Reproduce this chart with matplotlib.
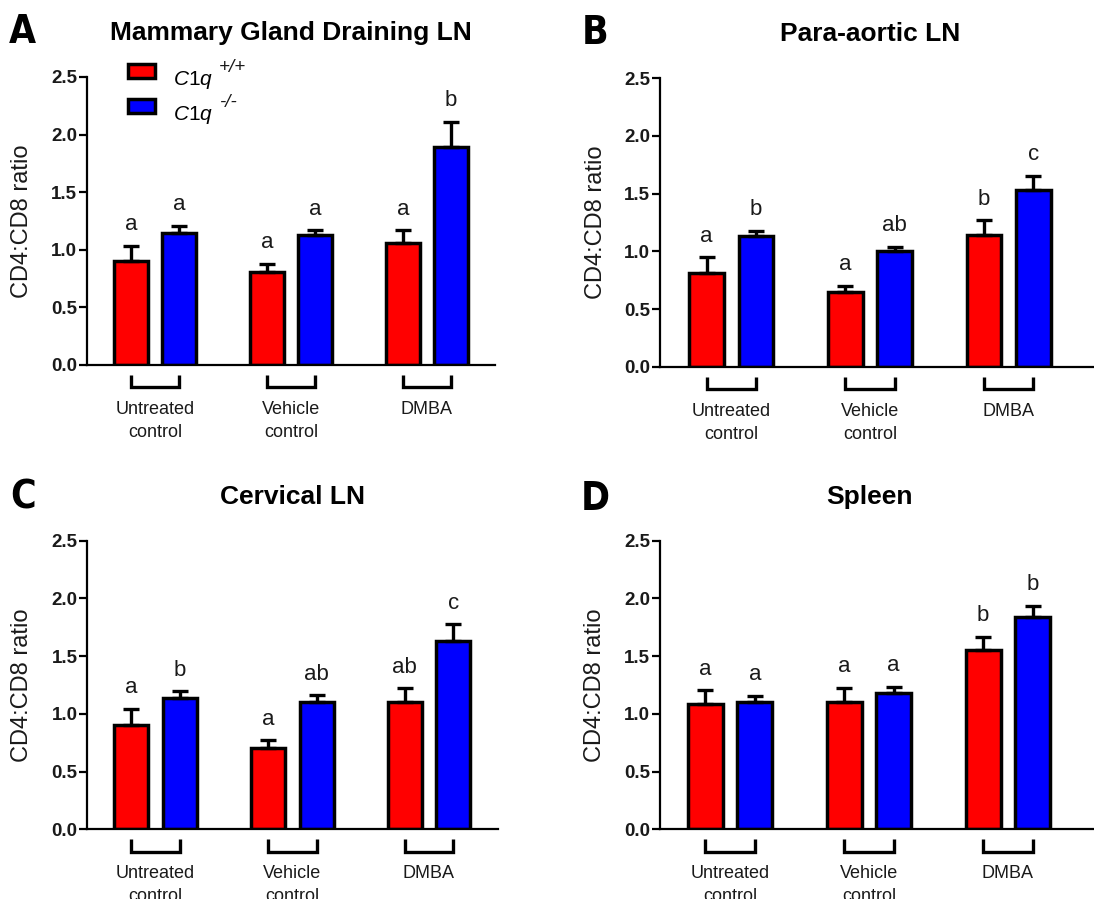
import matplotlib
matplotlib.use('Agg')
import matplotlib.pyplot as plt
import numpy as np
from matplotlib.transforms import blended_transform_factory
from matplotlib.legend_handler import HandlerPatch
from matplotlib.patches import Rectangle
from matplotlib.container import BarContainer

plt.rcParams['font.family'] = ['Liberation Sans', 'DejaVu Sans']
plt.rcParams['mathtext.fontset'] = 'custom'
plt.rcParams['mathtext.rm'] = 'Liberation Sans'
plt.rcParams['mathtext.it'] = 'Liberation Sans:italic'
plt.rcParams['mathtext.bf'] = 'Liberation Sans:bold'

# ---------------- data ----------------
groups = ['Untreated\ncontrol', 'Vehicle\ncontrol', 'DMBA']
series_names = ['C1q', 'C1q']
series_sup = ['+/+', '-/-']
panel_letters = ['A', 'B', 'C', 'D']
titles = ['Mammary Gland Draining LN', 'Para-aortic LN', 'Cervical LN', 'Spleen']
y_ticks = [0.0, 0.5, 1.0, 1.5, 2.0, 2.5]

A_wt_mean = [0.90, 0.81, 1.06]
A_wt_sem = [0.135, 0.07, 0.11]
A_ko_mean = [1.15, 1.13, 1.895]
A_ko_sem = [0.06, 0.04, 0.215]
A_wt_sig = ['a', 'a', 'a']
A_ko_sig = ['a', 'a', 'b']

B_wt_mean = [0.81, 0.65, 1.14]
B_wt_sem = [0.14, 0.05, 0.13]
B_ko_mean = [1.13, 1.005, 1.53]
B_ko_sem = [0.05, 0.035, 0.125]
B_wt_sig = ['a', 'a', 'b']
B_ko_sig = ['b', 'ab', 'c']

C_wt_mean = [0.90, 0.70, 1.10]
C_wt_sem = [0.145, 0.07, 0.12]
C_ko_mean = [1.135, 1.10, 1.635]
C_ko_sem = [0.06, 0.06, 0.14]
C_wt_sig = ['a', 'a', 'ab']
C_ko_sig = ['b', 'ab', 'c']

D_wt_mean = [1.085, 1.10, 1.555]
D_wt_sem = [0.12, 0.125, 0.115]
D_ko_mean = [1.10, 1.185, 1.84]
D_ko_sem = [0.055, 0.05, 0.095]
D_wt_sig = ['a', 'a', 'b']
D_ko_sig = ['a', 'a', 'b']

panels = [
    (A_wt_mean, A_wt_sem, A_ko_mean, A_ko_sem, A_wt_sig, A_ko_sig),
    (B_wt_mean, B_wt_sem, B_ko_mean, B_ko_sem, B_wt_sig, B_ko_sig),
    (C_wt_mean, C_wt_sem, C_ko_mean, C_ko_sem, C_wt_sig, C_ko_sig),
    (D_wt_mean, D_wt_sem, D_ko_mean, D_ko_sem, D_wt_sig, D_ko_sig),
]

# ---------------- layout ----------------
W, H = 1094, 899
fig = plt.figure(figsize=(W / 100, H / 100), dpi=100)

# axes boxes in pixels: left, right, top, bottom
boxes = [(87, 495, 77, 365), (660, 1094, 78.3, 366.7),
         (87.3, 498, 540.7, 829.3), (660, 1094, 540.7, 829.3)]
xlims = [(-0.5, 2.5), (-0.515, 2.615), (-0.5, 2.505), (-0.505, 2.62)]
letter_pos = [(22.5, 28), (595, 28.5), (23, 493.5), (595, 495.5)]
ylabel_x = [-0.159, -0.147, -0.158, -0.150]
sup_pos = [(219, 67), (219, 102.5)]

red = '#FF0000'
blue = '#0000FF'
off = 0.178
bw = 0.25
edge_lw = 2.5
txt = '#1a1a1a'


def raised_rect(legend, orig_handle, xdescent, ydescent, width, height,
                fontsize):
    # legend swatch sitting a little above the label baseline
    return Rectangle((-xdescent, -ydescent + 4.7), width, height)


def from_first_bar(tgt, src):
    tgt.update_from(src.get_children()[0])


for i, (box, data) in enumerate(zip(boxes, panels)):
    l, r, t, b = box
    ax = fig.add_axes([l / W, 1 - b / H, (r - l) / W, (b - t) / H])
    wt_m, wt_s, ko_m, ko_s, wt_sig, ko_sig = data
    x = np.arange(len(groups))
    bars_wt = ax.bar(x - off, wt_m, bw, color=red, edgecolor='black',
                     linewidth=edge_lw, zorder=2,
                     label=r'$\mathit{%s}$' % series_names[0])
    bars_ko = ax.bar(x + off, ko_m, bw, color=blue, edgecolor='black',
                     linewidth=edge_lw, zorder=2,
                     label=r'$\mathit{%s}$' % series_names[1])
    for xs, m, s in [(x - off, wt_m, wt_s), (x + off, ko_m, ko_s)]:
        ax.errorbar(xs, m, yerr=[np.zeros(len(s)), s], fmt='none',
                    ecolor='black', elinewidth=2.4, capsize=6,
                    capthick=2.4, zorder=3, clip_on=False)
    for xs, m, s, sig in [(x - off, wt_m, wt_s, wt_sig),
                          (x + off, ko_m, ko_s, ko_sig)]:
        for xx, mm, ss, lab in zip(xs, m, s, sig):
            ax.text(xx, mm + ss + 0.135, lab, ha='center', va='baseline',
                    fontsize=16, color=txt)

    ax.set_xlim(*xlims[i])
    ax.set_ylim(0, 2.5)
    ax.set_yticks(y_ticks)
    ax.set_yticklabels(['%.1f' % v for v in y_ticks], fontweight='bold')
    ax.set_xticks([])
    for sp in ['top', 'right']:
        ax.spines[sp].set_visible(False)
    for sp in ['left', 'bottom']:
        ax.spines[sp].set_linewidth(1.6)
    ax.tick_params(axis='y', direction='out', length=5.5, width=1.6,
                   labelsize=13.5, pad=1.5, colors='black')
    ax.tick_params(axis='y', labelcolor=txt)

    ax.set_ylabel('CD4:CD8 ratio', fontsize=17, color=txt)
    ax.yaxis.label.set_va('center')
    ax.yaxis.set_label_coords(ylabel_x[i], 0.5)

    ph = b - t
    trans = blended_transform_factory(ax.transData, ax.transAxes)
    for g, name in enumerate(groups):
        y1 = -10 / ph
        y2 = -22.5 / ph
        ax.plot([g - off, g - off, g + off, g + off], [y1, y2, y2, y1],
                color='black', lw=2.4, transform=trans, clip_on=False,
                solid_joinstyle='miter', solid_capstyle='butt')
        ax.text(g, -36 / ph, name, transform=trans, ha='center', va='top',
                fontsize=13, linespacing=1.45, color=txt)

    ax.text(1, 1 + 44 / ph, titles[i], transform=trans, ha='center',
            va='center', fontsize=19, fontweight='bold')

    fig.text(letter_pos[i][0] / W, 1 - letter_pos[i][1] / H, panel_letters[i],
             fontsize=28, fontweight='bold', family='DejaVu Sans',
             fontstretch='condensed', ha='center', va='center_baseline')

    if i == 0:
        ax.legend(handles=[bars_wt, bars_ko], loc='upper left',
                  bbox_to_anchor=(0.1, 1.029), frameon=False, fontsize=15,
                  handlelength=1.3, handleheight=0.67, handletextpad=0.85,
                  labelspacing=0.62, borderpad=0, borderaxespad=0,
                  handler_map={BarContainer: HandlerPatch(
                      patch_func=raised_rect, update_func=from_first_bar)})
        for (sx, sy), sup in zip(sup_pos, series_sup):
            fig.text(sx / W, 1 - sy / H, sup, fontsize=13.5, style='italic',
                     ha='left', va='center', color=txt)

fig.savefig('out.png', dpi=100)
